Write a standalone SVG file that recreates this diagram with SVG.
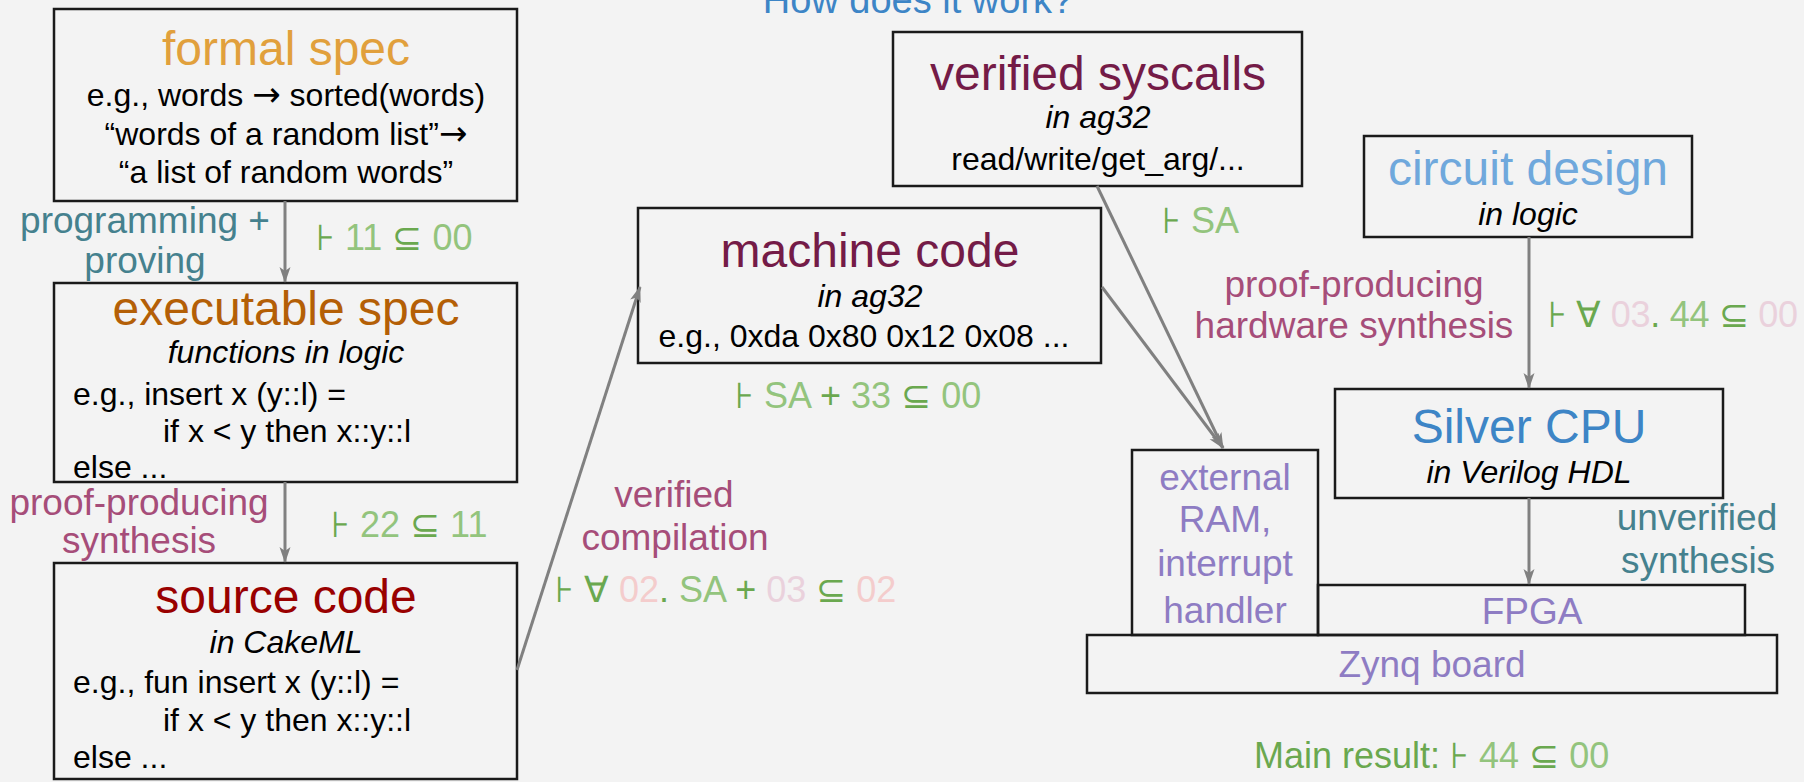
<svg xmlns="http://www.w3.org/2000/svg" width="1804" height="782" viewBox="0 0 1804 782">
<defs>
<marker id="arr" markerUnits="userSpaceOnUse" viewBox="0 0 16 12" markerWidth="16" markerHeight="12" refX="15" refY="6" orient="auto">
<path d="M0,0.5 L16,6 L0,11.5 L4,6 Z" fill="#808080"/>
</marker>
<style>
text{font-family:"Liberation Sans",Arial,sans-serif}
.box{fill:none;stroke:#1a1a1a;stroke-width:2.5}
.t48{font-size:48px;text-anchor:middle}
.b32{font-size:32px;fill:#000}
.i32{font-size:32px;font-style:italic;fill:#000;text-anchor:middle}
.c{text-anchor:middle}
.l37{font-size:37px}
.teal{fill:#45818e}
.pink{fill:#a64d79}
.purp{fill:#8e7cc3}
.f{font-size:36px;fill:#93c47d}
.g{fill:#6aa84f}
.r{fill:#f4cccc}
.m{fill:#ead1dc}
.ar{font-family:"DejaVu Sans",sans-serif;font-size:34px}
.conn line{stroke:#808080;stroke-width:3;marker-end:url(#arr)}
</style>
</defs>
<rect x="0" y="0" width="1804" height="782" fill="#f3f3f3"/>

<text x="918" y="13" class="c" style="font-size:38px;fill:#3d85c6">How does it work?</text>

<g id="formal-spec">
<rect class="box" x="54" y="9" width="463" height="192"/>
<text x="286" y="65" class="t48" fill="#e1a03c">formal spec</text>
<text x="286" y="106" class="b32 c">e.g., words <tspan class="ar">→</tspan> sorted(words)</text>
<text x="286" y="145" class="b32 c">“words of a random list”<tspan class="ar">→</tspan></text>
<text x="286" y="183" class="b32 c">“a list of random words”</text>
</g>

<g id="executable-spec">
<rect class="box" x="54" y="283" width="463" height="199"/>
<text x="286" y="325" class="t48" fill="#b45f06">executable spec</text>
<text x="286" y="363" class="i32">functions in logic</text>
<text x="73" y="405" class="b32">e.g., insert x (y::l) =</text>
<text x="163" y="442" class="b32">if x &lt; y then x::y::l</text>
<text x="73" y="478" class="b32">else ...</text>
</g>

<g id="source-code">
<rect class="box" x="54" y="563" width="463" height="216"/>
<text x="286" y="613" class="t48" fill="#990000">source code</text>
<text x="286" y="653" class="i32">in CakeML</text>
<text x="73" y="693" class="b32">e.g., fun insert x (y::l) =</text>
<text x="163" y="731" class="b32">if x &lt; y then x::y::l</text>
<text x="73" y="768" class="b32">else ...</text>
</g>

<g id="machine-code">
<rect class="box" x="638" y="208" width="463" height="155"/>
<text x="870" y="267" class="t48" fill="#741b47">machine code</text>
<text x="870" y="307" class="i32">in ag32</text>
<text x="864" y="347" class="b32 c">e.g., 0xda 0x80 0x12 0x08 ...</text>
</g>

<g id="verified-syscalls">
<rect class="box" x="893" y="32" width="409" height="154"/>
<text x="1098" y="90" class="t48" fill="#741b47">verified syscalls</text>
<text x="1098" y="128" class="i32">in ag32</text>
<text x="1098" y="170" class="b32 c">read/write/get_arg/...</text>
</g>

<g id="circuit-design">
<rect class="box" x="1364" y="136" width="328" height="101"/>
<text x="1528" y="185" class="t48" fill="#6fa8dc">circuit design</text>
<text x="1528" y="225" class="i32">in logic</text>
</g>

<g id="silver-cpu">
<rect class="box" x="1335" y="389" width="388" height="109"/>
<text x="1529" y="443" class="t48" fill="#3d85c6">Silver CPU</text>
<text x="1529" y="483" class="i32">in Verilog HDL</text>
</g>

<g id="external-ram">
<rect class="box" x="1132" y="450" width="186" height="185"/>
<text x="1225" y="490" class="l37 c purp">external</text>
<text x="1225" y="532" class="l37 c purp">RAM,</text>
<text x="1225" y="576" class="l37 c purp">interrupt</text>
<text x="1225" y="623" class="l37 c purp">handler</text>
</g>

<g id="fpga">
<rect class="box" x="1318" y="585" width="427" height="50"/>
<text x="1532" y="624" class="l37 c purp">FPGA</text>
</g>

<g id="zynq-board">
<rect class="box" x="1087" y="635" width="690" height="58"/>
<text x="1432" y="677" class="l37 c purp">Zynq board</text>
</g>

<g id="connectors" class="conn">
<line x1="285" y1="201" x2="285" y2="282"/>
<line x1="285" y1="482" x2="285" y2="562"/>
<line x1="517" y1="670" x2="640" y2="287"/>
<line x1="1097" y1="186" x2="1223" y2="448"/>
<line x1="1102" y1="287" x2="1223" y2="448"/>
<line x1="1529" y1="237" x2="1529" y2="388"/>
<line x1="1529" y1="498" x2="1529" y2="584"/>
</g>

<g id="labels">
<text x="145" y="233" class="l37 c teal">programming +</text>
<text x="145" y="273" class="l37 c teal">proving</text>
<text x="316" y="250" class="f"><tspan class="g">⊦</tspan> 11 <tspan class="g">⊆</tspan> 00</text>

<text x="139" y="515" class="l37 c pink">proof-producing</text>
<text x="139" y="553" class="l37 c pink">synthesis</text>
<text x="331" y="537" class="f"><tspan class="g">⊦</tspan> 22 <tspan class="g">⊆</tspan> 11</text>

<text x="674" y="507" class="l37 c pink">verified</text>
<text x="675" y="550" class="l37 c pink">compilation</text>
<text x="555" y="602" class="f"><tspan class="g">⊦ ∀</tspan> <tspan class="r">02</tspan><tspan class="g">.</tspan> SA <tspan class="g">+</tspan> <tspan class="m">03</tspan> <tspan class="g">⊆</tspan> <tspan class="r">02</tspan></text>

<text x="735" y="408" class="f"><tspan class="g">⊦</tspan> SA <tspan class="g">+</tspan> 33 <tspan class="g">⊆</tspan> 00</text>

<text x="1162" y="233" class="f"><tspan class="g">⊦</tspan> SA</text>

<text x="1354" y="297" class="l37 c pink">proof-producing</text>
<text x="1354" y="338" class="l37 c pink">hardware synthesis</text>
<text x="1548" y="327" class="f" textLength="250" lengthAdjust="spacing"><tspan class="g">⊦ ∀</tspan> <tspan class="m">03</tspan><tspan class="g">.</tspan> 44 <tspan class="g">⊆</tspan> <tspan class="m">00</tspan></text>

<text x="1697" y="530" class="l37 c teal">unverified</text>
<text x="1698" y="573" class="l37 c teal">synthesis</text>

<text x="1254" y="768" class="f"><tspan class="g">Main result: ⊦</tspan> 44 <tspan class="g">⊆</tspan> 00</text>
</g>
</svg>
